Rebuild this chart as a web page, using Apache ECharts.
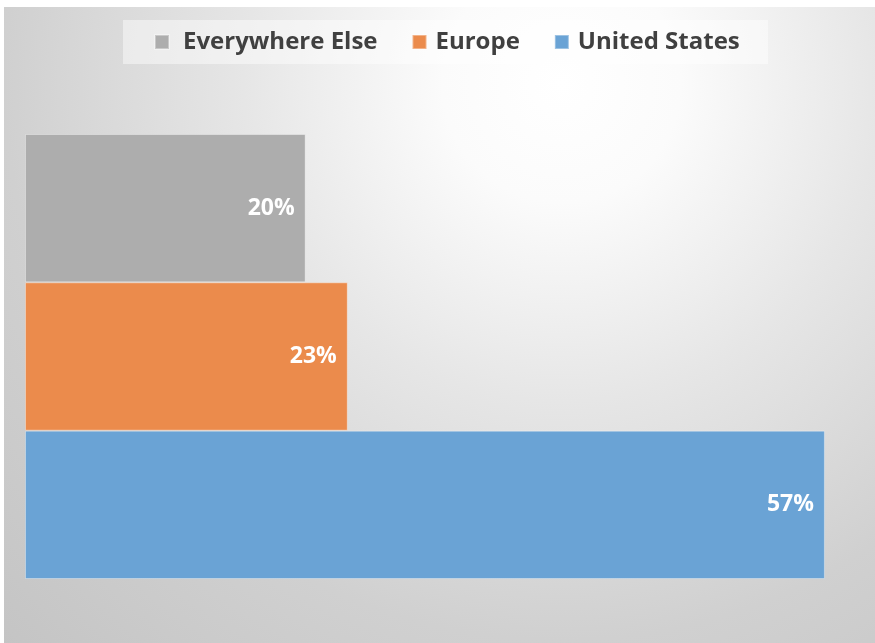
<!DOCTYPE html>
<html>
<head>
<meta charset="utf-8">
<script src="https://cdn.jsdelivr.net/npm/echarts@6/dist/echarts.min.js"></script>
<style>
  html, body { margin: 0; padding: 0; background: #ffffff; }
  #chart { width: 875px; height: 643px; }
</style>
</head>
<body>
<div id="chart"></div>
<script>
// Share by region
const regions = ['Everywhere Else', 'Europe', 'United States'];
const everywhereElse = [0.20, '-', '-'];
const europe = ['-', 0.23, '-'];
const unitedStates = ['-', '-', 0.57];

const colors = {
  'Everywhere Else': '#adadad',
  'Europe': '#eb8b4c',
  'United States': '#6aa3d5'
};

// spacing around each legend label: [top, right, bottom, left]
const legendPads = [[0, 0, 0, 9], [0, 8, 0, 4], [0, 0, 0, 4]];

const chart = echarts.init(document.getElementById('chart'));

function barSeries(name, data) {
  return {
    name: name,
    type: 'bar',
    data: data,
    barGap: '-100%',
    barCategoryGap: '0%',
    itemStyle: {
      color: colors[name],
      borderColor: 'rgba(255,255,255,0.35)',
      borderWidth: 1
    },
    label: {
      show: true,
      position: 'insideRight',
      distance: 11,
      color: '#ffffff',
      fontFamily: 'Open Sans',
      fontWeight: 'bold',
      fontSize: 23,
      formatter: p => Math.round(p.value * 100) + '%'
    },
    emphasis: { disabled: true }
  };
}

chart.setOption({
  animation: false,
  graphic: [{
    type: 'rect',
    z: -10,
    shape: { x: 4, y: 7, width: 871, height: 636 },
    style: {
      fill: new echarts.graphic.RadialGradient(0.64, 0.12, 1.25, [
        { offset: 0, color: '#ffffff' },
        { offset: 0.15, color: '#fbfbfb' },
        { offset: 0.4, color: '#e6e6e6' },
        { offset: 0.7, color: '#d0d0d0' },
        { offset: 1, color: '#c4c4c4' }
      ])
    },
    silent: true
  }, {
    // legend panel
    type: 'rect',
    z: -5,
    shape: { x: 123, y: 20, width: 645, height: 44 },
    style: { fill: 'rgba(255,255,255,0.45)' },
    silent: true
  }],
  legend: {
    data: regions.map((name, i) => ({
      name: name,
      textStyle: { padding: legendPads[i] }
    })),
    top: 30,
    left: 154,
    padding: 0,
    itemGap: 34,
    icon: 'rect',
    itemWidth: 14,
    itemHeight: 14,
    textStyle: {
      color: '#404040',
      fontFamily: 'Open Sans',
      fontWeight: 'bold',
      fontSize: 24
    },
    selectedMode: false
  },
  grid: { left: 25, right: 8, top: 134, bottom: 64 },
  xAxis: {
    type: 'value',
    min: 0,
    max: 0.6,
    show: false
  },
  yAxis: {
    type: 'category',
    data: regions,
    inverse: true,
    show: false
  },
  series: [
    barSeries('Everywhere Else', everywhereElse),
    barSeries('Europe', europe),
    barSeries('United States', unitedStates)
  ]
});
</script>
</body>
</html>
